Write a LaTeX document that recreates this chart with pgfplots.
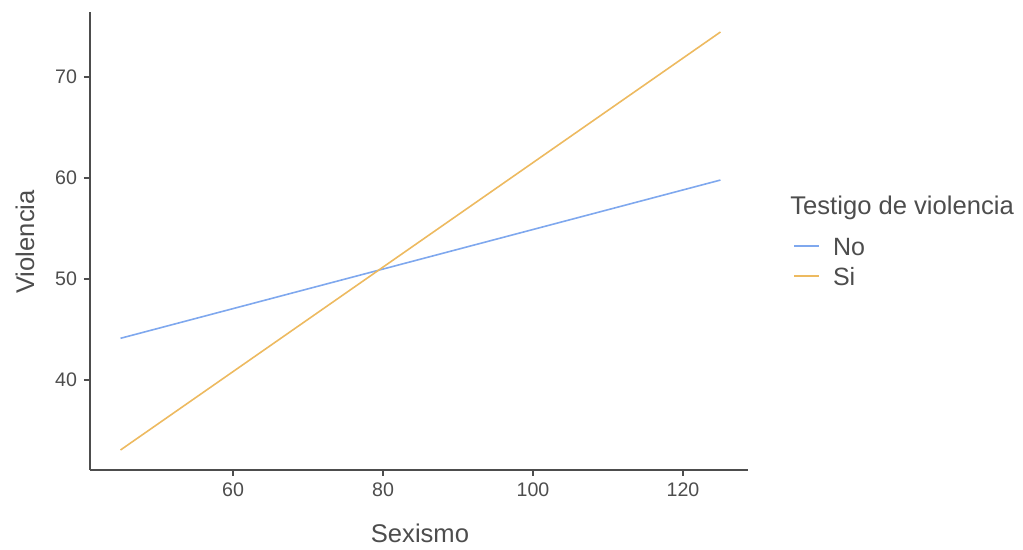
\documentclass[border=0pt]{standalone}
\usepackage{fontspec}
\setmainfont{Liberation Sans}
\usepackage{pgfplots}
\pgfplotsset{compat=1.18}
\definecolor{noblue}{HTML}{7FA8EE}
\definecolor{siorange}{HTML}{EDBA60}
\definecolor{axgrey}{HTML}{4D4D4D}
\definecolor{txtgrey}{HTML}{4D4D4D}
\begin{document}
\begin{tikzpicture}[x=0.5pt,y=0.5pt]
\useasboundingbox (-90,-80) rectangle (933,458+12);
\begin{axis}[
  at={(0,0)}, anchor=south west,
  scale only axis, width=329pt, height=229pt,
  xmin=40.93, xmax=128.67, ymin=31.09, ymax=76.44,
  axis x line*=bottom, axis y line*=left,
  axis line style={axgrey, line width=1pt},
  xtick={60,80,100,120}, ytick={40,50,60,70},
  tick align=outside, tick style={axgrey, line width=0.9pt},
  major tick length=3pt,
  /pgf/number format/assume math mode=true,
  ticklabel style={font=\fontsize{9.8pt}{12pt}\selectfont, text=txtgrey},
  xlabel={Sexismo}, ylabel={Violencia},
  xlabel style={at={(axis description cs:0.5015,-0.1376)}, anchor=center, font=\fontsize{12.8pt}{15pt}\selectfont, text=txtgrey},
  ylabel style={at={(axis description cs:-0.099,0.498)}, anchor=center, rotate=0, font=\fontsize{12.8pt}{15pt}\selectfont, text=txtgrey},
  legend style={at={(axis description cs:1.0684,0.456)}, anchor=west, draw=none, fill=none, inner sep=0pt,
    font=\fontsize{12.5pt}{15pt}\selectfont, text=txtgrey,
    nodes={inner sep=0pt, text height=9pt, text depth=0pt},
    row sep=6pt},
  legend cell align=left,
  legend image code/.code={\draw[#1, line width=0.8pt] (0pt,0pt) -- (12.5pt,0pt);},
  /tikz/every odd column/.append style={column sep=6.5pt},
  clip=false,
]
\addplot[noblue, line width=0.8pt] coordinates {(45,44.13) (125,59.8)};
\addlegendentry{No}
\addplot[siorange, line width=0.8pt] coordinates {(45,33.07) (125,74.46)};
\addlegendentry{Si}
\node[anchor=west, inner sep=0pt, font=\fontsize{12.8pt}{15pt}\selectfont, text=txtgrey] at (axis description cs:1.0638,0.5720) {Testigo de violencia};
\end{axis}
\end{tikzpicture}
\end{document}
